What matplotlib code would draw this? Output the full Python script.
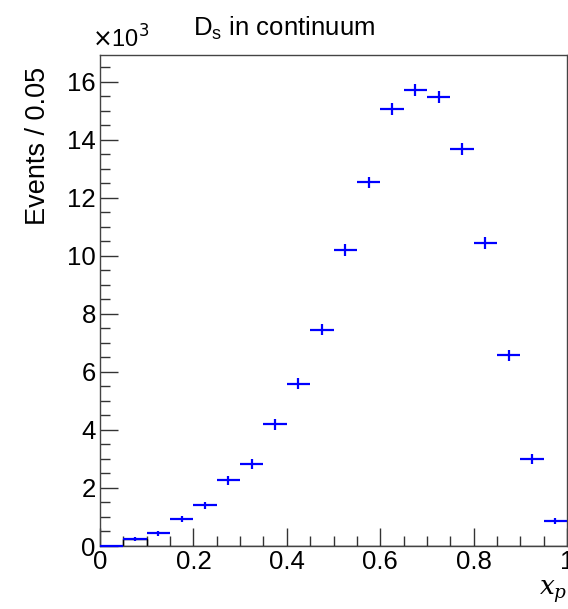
import numpy as np
import matplotlib
matplotlib.use("Agg")
import matplotlib.pyplot as plt
from matplotlib.ticker import MultipleLocator, FuncFormatter

# bin edges of x_p (20 bins of 0.05)
bin_lo = [0.00, 0.05, 0.10, 0.15, 0.20, 0.25, 0.30, 0.35, 0.40, 0.45,
          0.50, 0.55, 0.60, 0.65, 0.70, 0.75, 0.80, 0.85, 0.90, 0.95]
bin_width = 0.05

# events per bin
counts = [0, 230, 440, 930, 1400, 2260, 2820, 4200, 5600, 7460,
          10210, 12540, 15060, 15720, 15480, 13680, 10450, 6580, 2990, 860]
count_err = [0, 70, 90, 110, 130, 160, 170, 190, 190, 190,
             200, 200, 200, 200, 200, 200, 200, 190, 170, 110]

# black outline histogram (only the second bin is visible)
outline_counts = [0, 250, 0, 0, 0, 0, 0, 0, 0, 0,
                  0, 0, 0, 0, 0, 0, 0, 0, 0, 0]

plt.rcParams["font.family"] = ["Liberation Sans", "DejaVu Sans"]

fig = plt.figure(figsize=(5.68, 6.09), dpi=100)
ax = fig.add_axes([100 / 568, 1 - 546 / 609, 467 / 568, 491 / 609])

centers = np.array(bin_lo) + bin_width / 2

# black outline box
ax.bar(bin_lo, outline_counts, width=bin_width, align="edge",
       fill=False, edgecolor="black", lw=1.0, zorder=2)

# blue points with error bars
ax.errorbar(centers, counts, xerr=bin_width / 2, yerr=count_err,
            fmt="none", ecolor="#0000ff", elinewidth=1.6, capsize=0,
            zorder=3, clip_on=False)

ax.set_xlim(0, 1)
ax.set_ylim(0, 16930)

ax.xaxis.set_major_locator(MultipleLocator(0.2))
ax.xaxis.set_minor_locator(MultipleLocator(0.05))
ax.yaxis.set_major_locator(MultipleLocator(2000))
ax.yaxis.set_minor_locator(MultipleLocator(500))

ax.xaxis.set_major_formatter(FuncFormatter(lambda v, p: "%g" % round(v, 2)))
ax.yaxis.set_major_formatter(FuncFormatter(lambda v, p: "%d" % round(v / 1000)))

ax.tick_params(which="both", direction="in", top=False, right=False,
               colors="#333333", labelcolor="black", width=1.0)
ax.tick_params(which="major", length=13, labelsize=18.5, pad=3)
ax.tick_params(which="minor", length=7)
ax.tick_params(axis="y", which="major", pad=3)

for s in ax.spines.values():
    s.set_color("#444444")
    s.set_linewidth(1.0)

# y title, right-aligned to the top like ROOT
fig.text(38 / 568, 1 - 67 / 609, "Events / 0.05", fontsize=19.5,
         rotation=90, ha="center", va="top")

ax.text(-0.018, 1.004, r"$\times$10$^3$", transform=ax.transAxes,
        fontsize=17, ha="left", va="bottom")

fig.text(0.5, 1 - 35 / 609, r"D$_\mathregular{s}$ in continuum", fontsize=18.5,
         ha="center", va="baseline")

fig.text(0.973, 0.028, r"$x_p$", fontsize=19, ha="center", va="center",
         family="DejaVu Serif", style="italic", math_fontfamily="dejavuserif")

fig.savefig("out.png", dpi=100)
